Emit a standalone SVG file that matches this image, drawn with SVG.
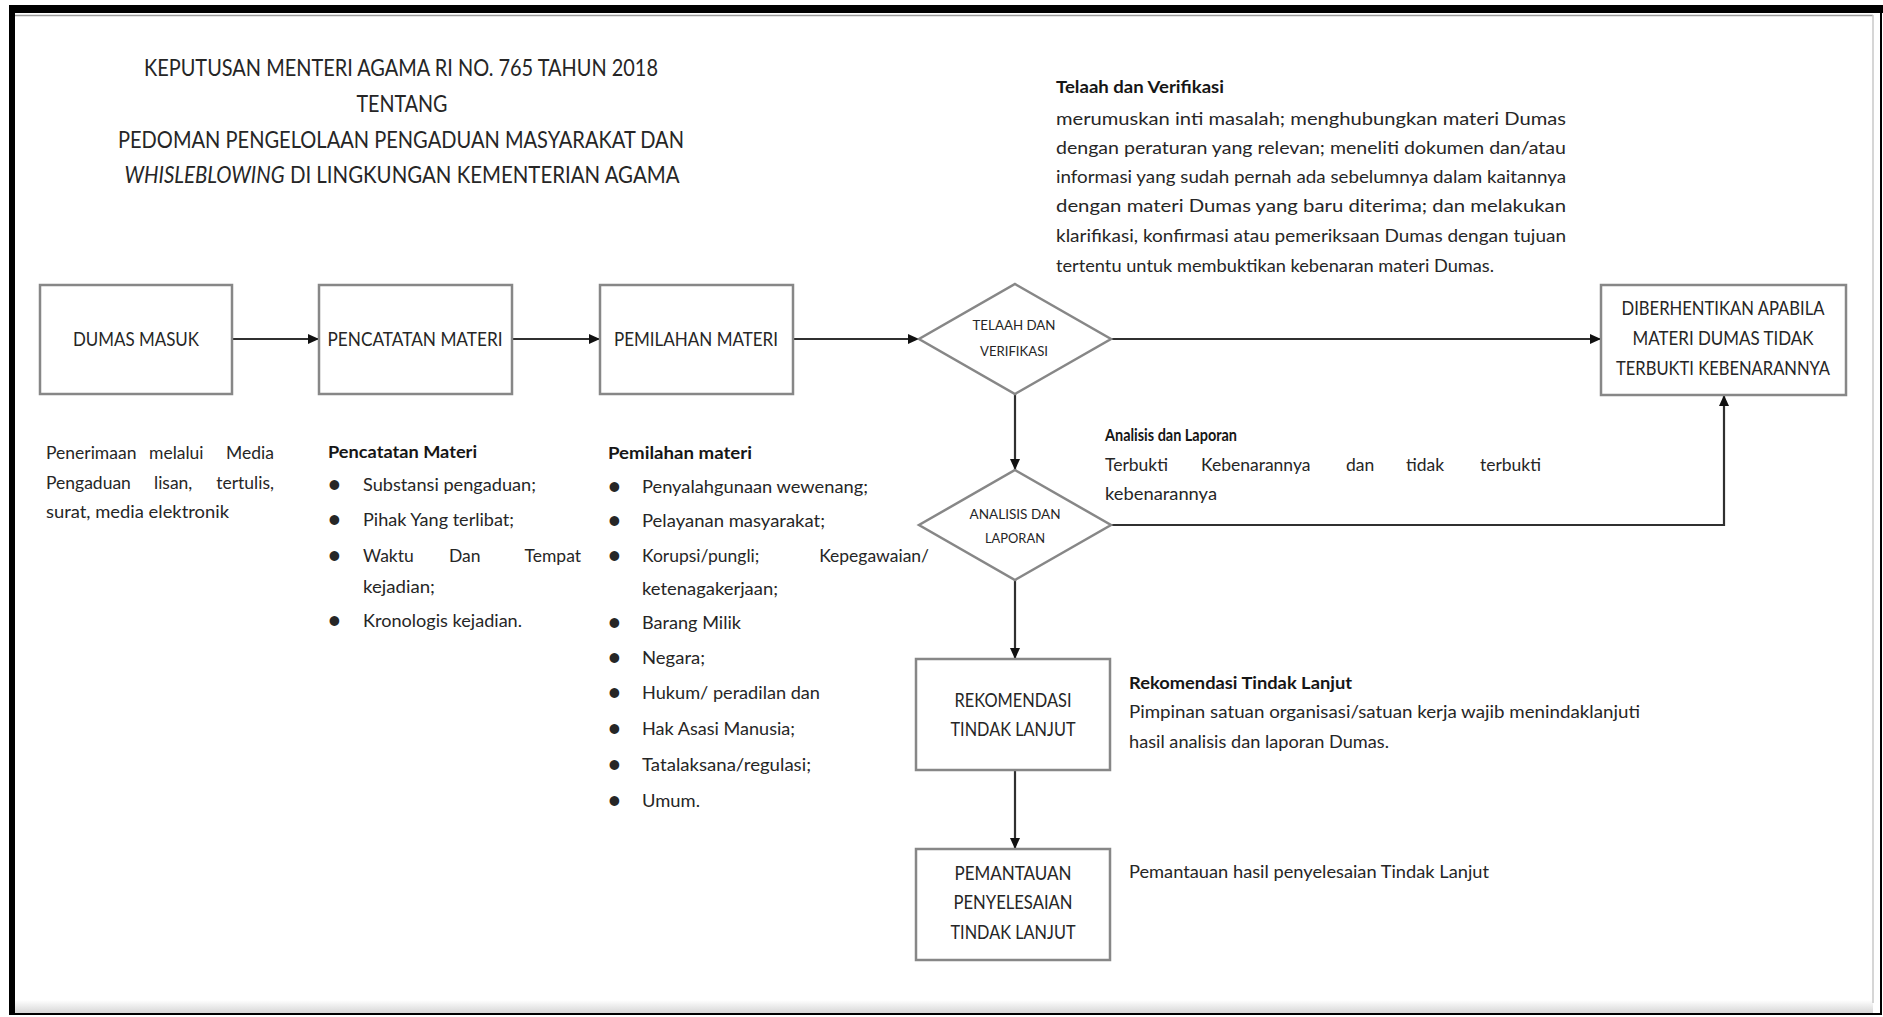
<svg xmlns="http://www.w3.org/2000/svg" width="1883" height="1017" viewBox="0 0 1883 1017">
<style>
text{font-family:Lato,"Liberation Sans",Arial,sans-serif;fill:#262626}
.lbl{font-size:19.5px;text-anchor:middle}
.dl{font-size:13.5px;text-anchor:middle}
.ti{font-size:22.5px;text-anchor:middle}
.b{font-size:17.5px}
.e{text-anchor:end}
.bul{font-size:22px;font-weight:700}
.h{font-size:17px;font-weight:700;fill:#161616}
.node{fill:#fff;stroke:#878787;stroke-width:2.5}
.con{fill:none;stroke:#303030;stroke-width:2.2}
</style>
<defs>
<marker id="ah" markerUnits="userSpaceOnUse" markerWidth="12" markerHeight="10" refX="11" refY="5" orient="auto">
<path d="M0,0 L11,5 L0,10 z" fill="#111"/>
</marker>
<linearGradient id="sh" x1="0" y1="0" x2="0" y2="1">
<stop offset="0" stop-color="#fff"/>
<stop offset="1" stop-color="#d6d6d6"/>
</linearGradient>
</defs>
<rect x="0" y="0" width="1883" height="1017" fill="#fff"/>
<g id="frame">
<rect x="15" y="1000" width="1858" height="13" fill="url(#sh)"/>
<rect x="9" y="5" width="1874" height="8" fill="#000"/>
<rect x="9" y="5" width="6" height="1010" fill="#000"/>
<rect x="1880" y="5" width="2" height="1010" fill="#000"/>
<rect x="9" y="1013" width="1873" height="2" fill="#000"/>
<line x1="15" y1="15.5" x2="1873" y2="15.5" stroke="#9a9a9a" stroke-width="1.5"/>
<line x1="1873" y1="15" x2="1873" y2="1003" stroke="#c8c8c8" stroke-width="1.5"/>
</g>
<g id="title">
<text class="ti" x="401" y="76" textLength="514" lengthAdjust="spacingAndGlyphs">KEPUTUSAN MENTERI AGAMA RI NO. 765 TAHUN 2018</text>
<text class="ti" x="402" y="112" textLength="91" lengthAdjust="spacingAndGlyphs">TENTANG</text>
<text class="ti" x="401" y="148" textLength="566" lengthAdjust="spacingAndGlyphs">PEDOMAN PENGELOLAAN PENGADUAN MASYARAKAT DAN</text>
<text class="ti" x="402" y="183" textLength="555" lengthAdjust="spacingAndGlyphs"><tspan font-style="italic">WHISLEBLOWING</tspan> DI LINGKUNGAN KEMENTERIAN AGAMA</text>
</g>
<g id="connectors">
<path class="con" d="M232,339 H319" marker-end="url(#ah)"/>
<path class="con" d="M512,339 H600" marker-end="url(#ah)"/>
<path class="con" d="M793,339 H919" marker-end="url(#ah)"/>
<path class="con" d="M1111,339 H1601" marker-end="url(#ah)"/>
<path class="con" d="M1015,394 V470" marker-end="url(#ah)"/>
<path class="con" d="M1111,525 H1724 V395" marker-end="url(#ah)"/>
<path class="con" d="M1015,580 V659" marker-end="url(#ah)"/>
<path class="con" d="M1015,770 V849" marker-end="url(#ah)"/>
</g>
<g id="dumas-masuk">
<rect class="node" x="40" y="285" width="192" height="109"/>
<text class="lbl" x="136" y="346" textLength="126" lengthAdjust="spacingAndGlyphs">DUMAS MASUK</text>
</g>
<g id="pencatatan-materi">
<rect class="node" x="319" y="285" width="193" height="109"/>
<text class="lbl" x="415" y="346" textLength="175" lengthAdjust="spacingAndGlyphs">PENCATATAN MATERI</text>
</g>
<g id="pemilahan-materi">
<rect class="node" x="600" y="285" width="193" height="109"/>
<text class="lbl" x="696" y="346" textLength="164" lengthAdjust="spacingAndGlyphs">PEMILAHAN MATERI</text>
</g>
<g id="telaah-verifikasi">
<polygon class="node" points="1015,284 1111,339 1015,394 919,339"/>
<text class="dl" x="1014" y="330" textLength="83" lengthAdjust="spacingAndGlyphs">TELAAH DAN</text>
<text class="dl" x="1014" y="356" textLength="68" lengthAdjust="spacingAndGlyphs">VERIFIKASI</text>
</g>
<g id="diberhentikan">
<rect class="node" x="1601" y="285" width="245" height="110"/>
<text class="lbl" x="1723" y="315" textLength="203" lengthAdjust="spacingAndGlyphs">DIBERHENTIKAN APABILA</text>
<text class="lbl" x="1723" y="345" textLength="181" lengthAdjust="spacingAndGlyphs">MATERI DUMAS TIDAK</text>
<text class="lbl" x="1723" y="375" textLength="214" lengthAdjust="spacingAndGlyphs">TERBUKTI KEBENARANNYA</text>
</g>
<g id="analisis-laporan">
<polygon class="node" points="1015,470 1111,525 1015,580 919,525"/>
<text class="dl" x="1015" y="519" textLength="91" lengthAdjust="spacingAndGlyphs">ANALISIS DAN</text>
<text class="dl" x="1015" y="543" textLength="60" lengthAdjust="spacingAndGlyphs">LAPORAN</text>
</g>
<g id="rekomendasi">
<rect class="node" x="916" y="659" width="194" height="111"/>
<text class="lbl" x="1013" y="707" textLength="117" lengthAdjust="spacingAndGlyphs">REKOMENDASI</text>
<text class="lbl" x="1013" y="736" textLength="125" lengthAdjust="spacingAndGlyphs">TINDAK LANJUT</text>
</g>
<g id="pemantauan">
<rect class="node" x="916" y="849" width="194" height="111"/>
<text class="lbl" x="1013" y="880" textLength="117" lengthAdjust="spacingAndGlyphs">PEMANTAUAN</text>
<text class="lbl" x="1013" y="909" textLength="119" lengthAdjust="spacingAndGlyphs">PENYELESAIAN</text>
<text class="lbl" x="1013" y="939" textLength="125" lengthAdjust="spacingAndGlyphs">TINDAK LANJUT</text>
</g>
<g id="note-telaah">
<text class="h" x="1056" y="93" textLength="168" lengthAdjust="spacingAndGlyphs">Telaah dan Verifikasi</text>
<text class="b" x="1056" y="125" textLength="510" lengthAdjust="spacingAndGlyphs">merumuskan inti masalah; menghubungkan materi Dumas</text>
<text class="b" x="1056" y="154" textLength="510" lengthAdjust="spacingAndGlyphs">dengan peraturan yang relevan; meneliti dokumen dan/atau</text>
<text class="b" x="1056" y="183" textLength="510" lengthAdjust="spacingAndGlyphs">informasi yang sudah pernah ada sebelumnya dalam kaitannya</text>
<text class="b" x="1056" y="212" textLength="510" lengthAdjust="spacingAndGlyphs">dengan materi Dumas yang baru diterima; dan melakukan</text>
<text class="b" x="1056" y="242" textLength="510" lengthAdjust="spacingAndGlyphs">klarifikasi, konfirmasi atau pemeriksaan Dumas dengan tujuan</text>
<text class="b" x="1056" y="272" textLength="438" lengthAdjust="spacingAndGlyphs">tertentu untuk membuktikan kebenaran materi Dumas.</text>
</g>
<g id="note-dumas">
<text class="b" x="46" y="459">Penerimaan</text>
<text class="b" x="149" y="459">melalui</text>
<text class="b e" x="274" y="459">Media</text>
<text class="b" x="46" y="489">Pengaduan</text>
<text class="b" x="154" y="489">lisan,</text>
<text class="b e" x="274" y="489">tertulis,</text>
<text class="b" x="46" y="518" textLength="183" lengthAdjust="spacingAndGlyphs">surat, media elektronik</text>
</g>
<g id="note-pencatatan">
<text class="h" x="328" y="458" textLength="149" lengthAdjust="spacingAndGlyphs">Pencatatan Materi</text>
<text class="bul" x="328" y="492">•</text>
<text class="b" x="363" y="491" textLength="173" lengthAdjust="spacingAndGlyphs">Substansi pengaduan;</text>
<text class="bul" x="328" y="527">•</text>
<text class="b" x="363" y="526" textLength="151" lengthAdjust="spacingAndGlyphs">Pihak Yang terlibat;</text>
<text class="bul" x="328" y="563">•</text>
<text class="b" x="363" y="562">Waktu</text>
<text class="b" x="449" y="562">Dan</text>
<text class="b e" x="581" y="562">Tempat</text>
<text class="b" x="363" y="593" textLength="72" lengthAdjust="spacingAndGlyphs">kejadian;</text>
<text class="bul" x="328" y="628">•</text>
<text class="b" x="363" y="627" textLength="159" lengthAdjust="spacingAndGlyphs">Kronologis kejadian.</text>
</g>
<g id="note-pemilahan">
<text class="h" x="608" y="459" textLength="144" lengthAdjust="spacingAndGlyphs">Pemilahan materi</text>
<text class="bul" x="608" y="494">•</text>
<text class="b" x="642" y="493" textLength="226" lengthAdjust="spacingAndGlyphs">Penyalahgunaan wewenang;</text>
<text class="bul" x="608" y="528">•</text>
<text class="b" x="642" y="527" textLength="183" lengthAdjust="spacingAndGlyphs">Pelayanan masyarakat;</text>
<text class="bul" x="608" y="563">•</text>
<text class="b" x="642" y="562">Korupsi/pungli;</text>
<text class="b e" x="929" y="562">Kepegawaian/</text>
<text class="b" x="642" y="595" textLength="136" lengthAdjust="spacingAndGlyphs">ketenagakerjaan;</text>
<text class="bul" x="608" y="630">•</text>
<text class="b" x="642" y="629" textLength="99" lengthAdjust="spacingAndGlyphs">Barang Milik</text>
<text class="bul" x="608" y="665">•</text>
<text class="b" x="642" y="664" textLength="63" lengthAdjust="spacingAndGlyphs">Negara;</text>
<text class="bul" x="608" y="700">•</text>
<text class="b" x="642" y="699" textLength="178" lengthAdjust="spacingAndGlyphs">Hukum/ peradilan dan</text>
<text class="bul" x="608" y="736">•</text>
<text class="b" x="642" y="735" textLength="153" lengthAdjust="spacingAndGlyphs">Hak Asasi Manusia;</text>
<text class="bul" x="608" y="772">•</text>
<text class="b" x="642" y="771" textLength="169" lengthAdjust="spacingAndGlyphs">Tatalaksana/regulasi;</text>
<text class="bul" x="608" y="808">•</text>
<text class="b" x="642" y="807" textLength="58" lengthAdjust="spacingAndGlyphs">Umum.</text>
</g>
<g id="note-analisis">
<text class="h" x="1105" y="441" textLength="132" lengthAdjust="spacingAndGlyphs">Analisis dan Laporan</text>
<text class="b" x="1105" y="471">Terbukti</text>
<text class="b" x="1201" y="471">Kebenarannya</text>
<text class="b" x="1346" y="471">dan</text>
<text class="b" x="1406" y="471">tidak</text>
<text class="b e" x="1541" y="471">terbukti</text>
<text class="b" x="1105" y="500" textLength="112" lengthAdjust="spacingAndGlyphs">kebenarannya</text>
</g>
<g id="note-rekomendasi">
<text class="h" x="1129" y="689" textLength="223" lengthAdjust="spacingAndGlyphs">Rekomendasi Tindak Lanjut</text>
<text class="b" x="1129" y="718" textLength="511" lengthAdjust="spacingAndGlyphs">Pimpinan satuan organisasi/satuan kerja wajib menindaklanjuti</text>
<text class="b" x="1129" y="748" textLength="260" lengthAdjust="spacingAndGlyphs">hasil analisis dan laporan Dumas.</text>
</g>
<g id="note-pemantauan">
<text class="b" x="1129" y="878" textLength="360" lengthAdjust="spacingAndGlyphs">Pemantauan hasil penyelesaian Tindak Lanjut</text>
</g>
</svg>
